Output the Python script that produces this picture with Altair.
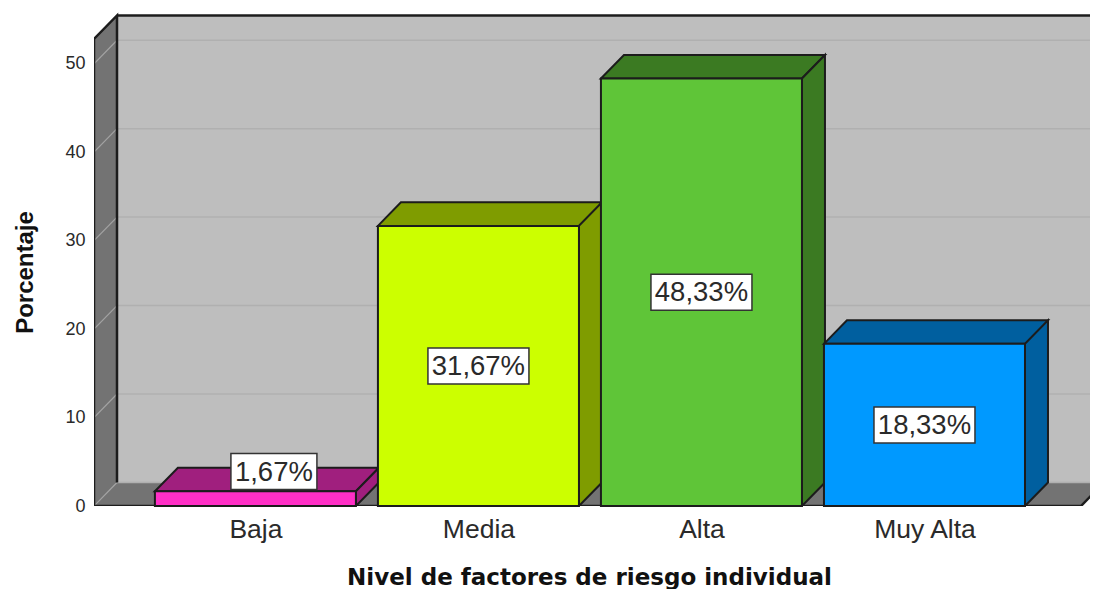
import json
import altair as alt
import pandas as pd

categories = ["Baja", "Media", "Alta", "Muy Alta"]
values = [1.67, 31.67, 48.33, 18.33]
labels = ["1,67%", "31,67%", "48,33%", "18,33%"]
front_colors = ["#ff2fc6", "#ccff00", "#5fc538", "#0099ff"]
dark_colors = ["#a01f7e", "#7f9c00", "#3b7a22", "#005f9f"]
y_ticks = [0, 10, 20, 30, 40, 50]
grid_values = [10, 20, 30, 40, 50]

HALF = 0.4507     # half bar width, in category units
DX = 0.1031       # depth of the 3D effect along x
DY = 2.66         # depth of the 3D effect along y
X_MIN, X_MAX = -0.7238, 3.7422
FLOOR_END = 3.7018
WALL_TOP = 52.8
Y_TOP = 55.85
EDGE = "#1c1c1c"

xs = alt.Scale(domain=[X_MIN, X_MAX], nice=False, zero=False)
ys = alt.Scale(domain=[0, Y_TOP], nice=False, zero=False)
label_expr = "%s[datum.value]" % json.dumps(categories)
x_axis = alt.Axis(
    title="Nivel de factores de riesgo individual", values=[0, 1, 2, 3], labelExpr=label_expr,
    domain=False, ticks=False, grid=False, labelFontSize=26.5, labelFont="Liberation Sans",
    labelColor="#2a2a2a", labelPadding=10, labelFlush=False, labelOverlap=False,
    titleFont="DejaVu Sans", titleFontSize=23, titleFontWeight="bold", titleColor="#111111",
    titleX=495, titleY=71, titleAnchor="middle", titleBaseline="middle")
y_axis = alt.Axis(
    title="Porcentaje", values=y_ticks, domain=False, ticks=False, grid=False,
    labelFontSize=18, labelFont="Liberation Sans", labelColor="#2a2a2a", labelPadding=9,
    titleFont="Liberation Sans", titleFontSize=24, titleFontWeight="bold", titleColor="#111111",
    titleX=-69, titleY=260, titleAngle=-90, titleAnchor="middle", titleBaseline="middle")
X0 = alt.X("x:Q", scale=xs, axis=x_axis)
Y0 = alt.Y("y:Q", scale=ys, axis=y_axis)
Y2 = alt.Y2("y2:Q")


def poly(points, fill, stroke=EDGE, sw=2):
    rows = [{"x": a, "y": b, "y2": c} for a, b, c in points]
    return alt.Chart(pd.DataFrame(rows)).mark_area(
        fill=fill, stroke=stroke, strokeWidth=sw, clip=True, opacity=1, interpolate="linear"
    ).encode(x=X0, y=Y0, y2=Y2)


def path(points, color=EDGE, sw=2.5):
    rows = [{"x": a, "y": b, "o": n} for n, (a, b) in enumerate(points)]
    return alt.Chart(pd.DataFrame(rows)).mark_line(color=color, strokeWidth=sw, clip=True).encode(
        x=X0, y=Y0, order="o:Q")


wall_df = pd.DataFrame([{"x": X_MIN + DX, "x2": X_MAX + 0.2, "y": DY, "y2": WALL_TOP + DY}])
wall = alt.Chart(wall_df).mark_rect(fill="#bebebe", clip=True).encode(
    x=X0, x2="x2:Q", y=Y0, y2=Y2)

left_wall = poly([(X_MIN, WALL_TOP, 0), (X_MIN + DX, WALL_TOP + DY, DY)], "#737373", stroke="#737373", sw=0.5)
floor = poly([(X_MIN, 0, 0), (X_MIN + DX, DY, 0), (FLOOR_END, DY, 0), (FLOOR_END + DX, DY, DY)],
             "#737373", stroke="#737373", sw=0.5)

grid_df = pd.DataFrame({"y": [v + DY for v in [0] + grid_values], "x": X_MIN + DX, "x2": X_MAX})
grid = alt.Chart(grid_df).mark_rule(color="#b0b0b0", strokeWidth=1.5, clip=True).encode(x=X0, x2="x2:Q", y=Y0)
diag_rows = []
for v in [0] + grid_values:
    diag_rows += [{"x": X_MIN, "y": v, "k": v}, {"x": X_MIN + DX, "y": v + DY, "k": v}]
diag = alt.Chart(pd.DataFrame(diag_rows)).mark_line(color="#a3a3a3", strokeWidth=1.2, clip=True).encode(
    x=X0, y=Y0, detail="k:N")

outline = path([(X_MIN + DX, DY), (X_MIN + DX, WALL_TOP + DY), (X_MIN, WALL_TOP), (X_MIN, 0),
                (FLOOR_END, 0), (FLOOR_END + DX, DY)])
top_edge = path([(X_MIN + DX, WALL_TOP + DY), (X_MAX, WALL_TOP + DY)])

layers = [wall, left_wall, floor, grid, diag, outline, top_edge]

for i, (v, fc, dc) in enumerate(zip(values, front_colors, dark_colors)):
    L, R = i - HALF, i + HALF
    layers.append(poly([(L, v, v), (L + DX, v + DY, v), (R, v + DY, v), (R + DX, v + DY, v + DY)], dc))
    layers.append(poly([(R, v, 0), (R + DX, v + DY, DY)], dc))
    front = pd.DataFrame([{"x": L, "x2": R, "y": 0, "y2": v}])
    layers.append(alt.Chart(front).mark_rect(fill=fc, stroke=EDGE, strokeWidth=2).encode(
        x=X0, x2="x2:Q", y=Y0, y2=Y2))

label_df = pd.DataFrame({"x": range(4), "y": [v / 2 for v in values], "t": labels})


def label_layers(df, w, dx, dy):
    box = alt.Chart(df).mark_rect(width=w, height=36, fill="white", stroke="#333333", strokeWidth=1.5,
                                  xOffset=dx, yOffset=dy).encode(x=X0, y=Y0)
    txt = alt.Chart(df).mark_text(font="Liberation Sans", fontSize=27.5, color="#2a2a2a", align="center",
                                  baseline="middle", xOffset=dx, yOffset=dy + 1).encode(x=X0, y=Y0, text="t:N")
    return [box, txt]


layers += label_layers(label_df.iloc[[0]], 86, 18.5, -27)
layers += label_layers(label_df.iloc[1:], 101, 0, 0)

chart = alt.layer(*layers).properties(
    width=996, height=494,
    autosize=alt.AutoSizeParams(type="none"),
    padding={"left": 86, "top": 4, "right": 0, "bottom": 83},
    background="white",
).configure_view(stroke=None)

chart.save("out.html", embed_options={"renderer": "svg", "actions": False})
